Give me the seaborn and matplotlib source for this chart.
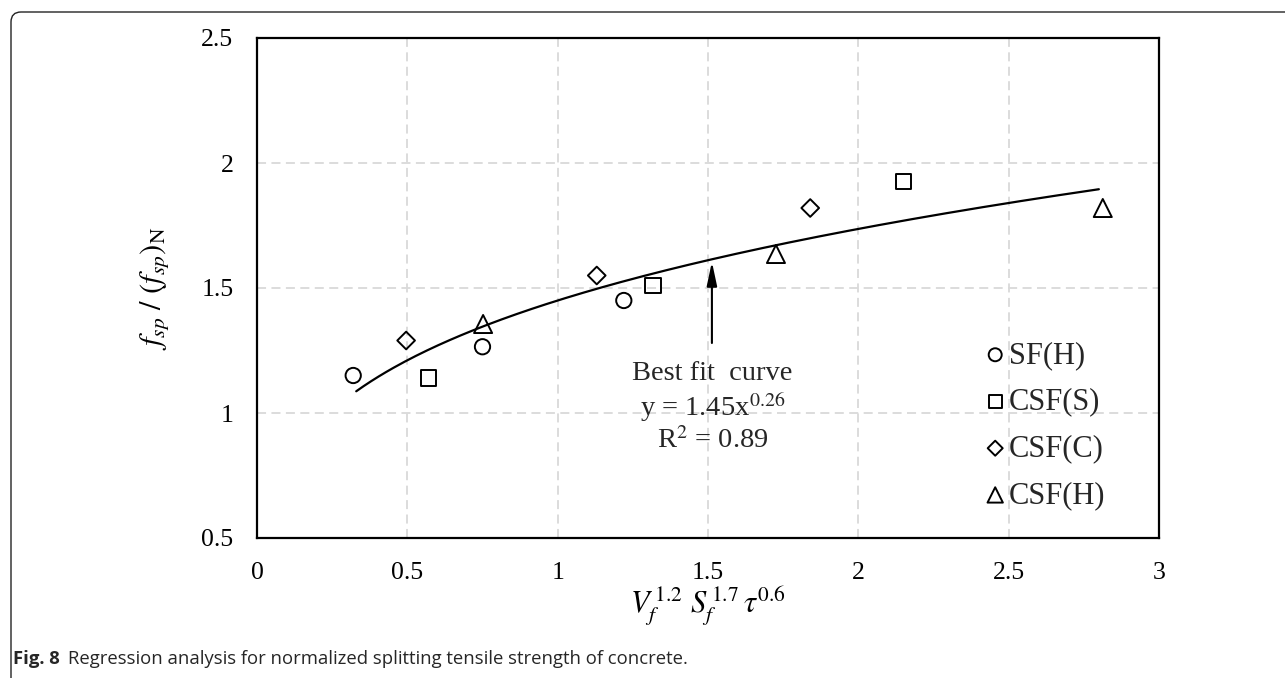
import numpy as np
import pandas as pd
import seaborn as sns
import matplotlib
matplotlib.use("Agg")
import matplotlib.pyplot as plt
from matplotlib.path import Path
from matplotlib.patches import PathPatch

# ---- data ----
series_names = ["SF(H)", "CSF(S)", "CSF(C)", "CSF(H)"]
sf_h_x = [0.32, 0.75, 1.22]
sf_h_y = [1.15, 1.265, 1.45]
csf_s_x = [0.57, 1.317, 2.15]
csf_s_y = [1.14, 1.51, 1.925]
csf_c_x = [0.496, 1.13, 1.84]
csf_c_y = [1.29, 1.55, 1.82]
csf_h_x = [0.752, 1.726, 2.813]
csf_h_y = [1.356, 1.636, 1.82]

fit_a = 1.45
fit_b = 0.26
fit_r2 = 0.89
fit_x_start, fit_x_end = 0.33, 2.80

x_ticks = [0, 0.5, 1, 1.5, 2, 2.5, 3]
x_ticklabels = ["0", "0.5", "1", "1.5", "2", "2.5", "3"]
y_ticks = [0.5, 1, 1.5, 2, 2.5]
y_ticklabels = ["0.5", "1", "1.5", "2", "2.5"]

caption_bold = "Fig. 8"
caption_text = "Regression analysis for normalized splitting tensile strength of concrete."

# ---- build table ----
rows = []
for name, xs, ys in zip(series_names, [sf_h_x, csf_s_x, csf_c_x, csf_h_x],
                        [sf_h_y, csf_s_y, csf_c_y, csf_h_y]):
    for a, b in zip(xs, ys):
        rows.append({"x": a, "y": b, "series": name})
df = pd.DataFrame(rows)

fx = np.linspace(fit_x_start, fit_x_end, 200)
fit_df = pd.DataFrame({"x": fx, "y": fit_a * fx ** fit_b})

sns.set_theme(style="white")
plt.rcParams["font.family"] = ["Liberation Serif", "DejaVu Serif"]
plt.rcParams["mathtext.fontset"] = "stix"

fig = plt.figure(figsize=(12.85, 6.78), dpi=100)
ax = fig.add_axes([257 / 1285, 1 - 538 / 678, (1159 - 257) / 1285, (538 - 38) / 678])

ax.grid(True, color="#d9d9d9", linestyle=(0, (5, 3)), linewidth=1.3)
ax.set_axisbelow(True)

sns.lineplot(data=fit_df, x="x", y="y", ax=ax, color="black", linewidth=1.6,
             legend=False, zorder=2)

markers = {"SF(H)": "o", "CSF(S)": "s", "CSF(C)": "D", "CSF(H)": "^"}
sizes_pt = {"SF(H)": 11, "CSF(S)": 11, "CSF(C)": 9, "CSF(H)": 13}
for name in series_names:
    sub = df[df["series"] == name]
    sns.scatterplot(data=sub, x="x", y="y", ax=ax, marker=markers[name],
                    s=sizes_pt[name] ** 2, facecolor="none", edgecolor="black",
                    linewidth=1.4, label=name, zorder=3)

ax.set_xlim(0, 3)
ax.set_ylim(0.5, 2.5)
ax.set_xticks(x_ticks)
ax.set_xticklabels(x_ticklabels)
ax.set_yticks(y_ticks)
ax.set_yticklabels(y_ticklabels)
ax.tick_params(axis="both", length=0, labelsize=18.5, colors="black", pad=17)

for s in ax.spines.values():
    s.set_visible(True)
    s.set_color("black")
    s.set_linewidth(1.6)

ax.set_xlabel(r"$V_f^{\,1.2}\ S_f^{\,1.7}\,\tau^{0.6}$", fontsize=22, labelpad=1, color="black")
ax.set_ylabel(r"$f_{sp}\ /\ (f_{sp})_{\mathrm{N}}$", fontsize=22, labelpad=22, color="black")

# legend
handles, labels = ax.get_legend_handles_labels()
leg = ax.legend(handles, labels, loc="upper left", bbox_to_anchor=(0.793, 0.425),
                frameon=False, fontsize=22, handlelength=0.5, handletextpad=0.2,
                labelspacing=0.58, markerscale=0.85, borderpad=0)

# annotation
ax.annotate("", xy=(1.513, 1.605), xytext=(1.513, 1.28),
            arrowprops=dict(arrowstyle="-|>,head_length=0.8,head_width=0.17", color="black", lw=1.5,
                            mutation_scale=18, shrinkA=0, shrinkB=0))
ax.text(1.515, 1.16, "Best fit  curve", ha="center", va="center", fontsize=20.5)
ax.text(1.515, 1.022, r"y = 1.45x$^{0.26}$", ha="center", va="center", fontsize=20.5)
ax.text(1.515, 0.888, r"R$^{2}$ = 0.89", ha="center", va="center", fontsize=20.5)

# figure frame (top + left with rounded corner)
W, H = 1285, 678
r = 10
x0, y0 = 11, 12
verts = [(x0, H), (x0, y0 + r), (x0, y0), (x0 + r, y0), (W, y0)]
codes = [Path.MOVETO, Path.LINETO, Path.CURVE3, Path.CURVE3, Path.LINETO]
verts_fig = [(vx / W, 1 - vy / H) for vx, vy in verts]
fig.patches.append(PathPatch(Path(verts_fig, codes), transform=fig.transFigure,
                             fill=False, edgecolor="#222222", linewidth=1.0))

# caption
t1 = fig.text(13 / W, 1 - 659 / H, caption_bold, fontsize=13.3, fontweight="bold",
              family=["Open Sans", "DejaVu Sans"], va="center", ha="left")
fig.canvas.draw()
bb = t1.get_window_extent()
fig.text((bb.x1 + 8) / W, 1 - 659 / H, caption_text, fontsize=13.3,
         family=["Open Sans", "DejaVu Sans"], va="center", ha="left")

fig.savefig("out.png", dpi=100)
